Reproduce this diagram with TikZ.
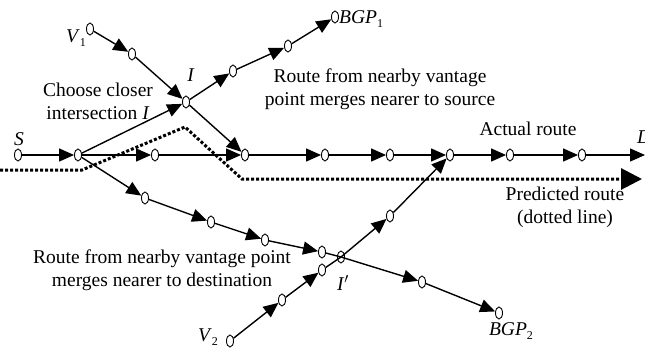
\documentclass[tikz,border=0pt]{standalone}
\usepackage{fontspec}
\setmainfont{Liberation Serif}
\usetikzlibrary{shapes.geometric,arrows.meta}
\newcommand{\lowsub}[1]{\raisebox{-4pt}{\fontsize{12}{12}\selectfont #1}}
\tikzset{
  rt/.style={ellipse, draw, line width=0.9pt, fill=white, minimum width=7pt, minimum height=12pt, inner sep=0pt},
  xrt/.style={rt, fill=none},
  route/.style={line width=1.4pt, -{Triangle[length=15pt,width=13pt]}},
  plain/.style={line width=1.4pt},
  pred/.style={line width=3pt, dash pattern=on 3pt off 2pt, -{Triangle[length=21pt,width=21pt]}},
  lbl/.style={inner sep=0pt, font=\fontsize{19.5}{23}\selectfont, align=center},
}
\begin{document}
\begin{tikzpicture}[x=1pt,y=-1pt]
\useasboundingbox (0,0) rectangle (645,351);

% predicted route (dotted)
\coordinate (p0) at (0,170);
\coordinate (p1) at (82,170);
\coordinate (p2) at (185,127);
\coordinate (p3) at (242,179);
\coordinate (p4) at (642,179);
\draw[pred] (p0) -- (p1) -- (p2) -- (p3) -- (p4);

% actual route
\node[rt] (s)  at (18,155) {};
\node[rt] (m1) at (78,155) {};
\node[rt] (m2) at (155,155) {};
\node[rt] (m3) at (245,155) {};
\node[rt] (m4) at (325,155) {};
\node[rt] (m5) at (390,155) {};
\node[rt] (m6) at (450,155) {};
\node[rt] (m7) at (510,155) {};
\node[rt] (m8) at (582,155) {};
\coordinate (dend) at (645,155);

% route from V1
\node[rt] (v1) at (90,29) {};
\node[rt] (a1) at (132,54) {};
\node[rt] (ii) at (186,102) {};
\node[rt] (b1) at (233,71) {};
\node[rt] (b2) at (288,46) {};
\node[rt] (bgp1) at (335,17) {};

% lower route towards BGP2
\node[rt] (d1) at (145,198) {};
\node[rt] (d2) at (211,222) {};
\node[rt] (d3) at (265,240) {};
\node[rt] (d4) at (322,252) {};
\node[xrt] (ip) at (341,257) {};
\node[rt] (d5) at (422,282) {};
\node[rt] (bgp2) at (499,313) {};

% route from V2
\node[rt] (v2) at (230,341) {};
\node[rt] (e1) at (282,300) {};
\node[rt] (e2) at (322,270) {};
\node[rt] (e3) at (390,216) {};

% connectors
\draw[route] (s) -- (m1);
\draw[route] (m1) -- (m2);
\draw[route] (m2) -- (m3);
\draw[route] (m3) -- (m4);
\draw[route] (m4) -- (m5);
\draw[route] (m5) -- (m6);
\draw[route] (m6) -- (m7);
\draw[route] (m7) -- (m8);
\draw[route] (m8) -- (dend);

\draw[route] (v1) -- (a1);
\draw[route] (a1) -- (ii);
\draw[route] (m1) -- (ii);
\draw[route] (ii) -- (m3);
\draw[route] (ii) -- (b1);
\draw[route] (b1) -- (b2);
\draw[route] (b2) -- (bgp1);

\draw[route] (m1) -- (d1);
\draw[route] (d1) -- (d2);
\draw[route] (d2) -- (d3);
\draw[route] (d3) -- (d4);
\draw[plain] (d4) -- (ip.center);
\draw[route] (ip.center) -- (d5);
\draw[route] (d5) -- (bgp2);

\draw[route] (v2) -- (e1);
\draw[route] (e1) -- (e2);
\draw[plain] (e2) -- (ip.center);
\draw[route] (ip.center) -- (e3);
\draw[route] (e3) -- (m6);

% labels
\node[lbl] (ls) at (19,139) {\textit{S}};
\node[lbl] (ld) at (637,137) [anchor=west] {\textit{D}};
\node[lbl] (lv1) at (76,38) {\textit{V}\lowsub{1}};
\node[lbl] (lv2) at (208,337) {\textit{V}\lowsub{2}};
\node[lbl] (li) at (191,75) {\textit{I}};
\node[lbl] (lip) at (343,283) {\textit{I}$'$};
\node[lbl, anchor=west] (lb1) at (339,19) {\textit{BGP}\lowsub{1}};
\node[lbl] (lb2) at (511,331) {\textit{BGP}\lowsub{2}};

\node[lbl] (t1) at (98,101) {Choose closer\\intersection \textit{I}};
\node[lbl] (t2) at (380,89) {Route from nearby vantage\\point merges nearer to source};
\node[lbl] (t3) at (528,129) {Actual route};
\node[lbl] (t4) at (565,207) {Predicted route\\(dotted line)};
\node[lbl] (t5) at (162,270) {Route from nearby vantage point\\merges nearer to destination};
\end{tikzpicture}
\end{document}
